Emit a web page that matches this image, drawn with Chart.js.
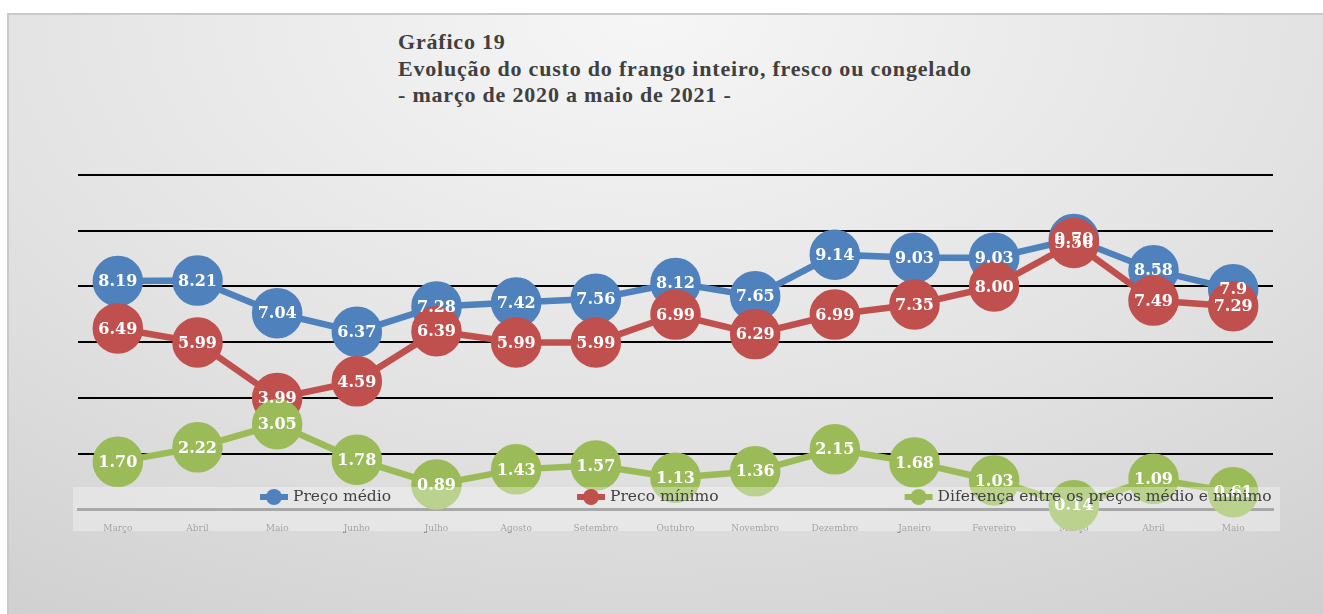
<!DOCTYPE html>
<html>
<head>
<meta charset="utf-8">
<script src="https://cdn.jsdelivr.net/npm/chart.js@4.4.0/dist/chart.umd.min.js"></script>
<style>
  html, body { margin: 0; padding: 0; background: #fff; }
  body { width: 1323px; height: 614px; position: relative; overflow: hidden; }
  #frame {
    position: absolute; left: 7px; top: 13px; width: 1330px; height: 620px;
    border: 2px solid #c9c9c9;
    background: radial-gradient(ellipse 115% 150% at 48% 0%, #f6f6f6 0%, #e2e2e2 45%, #c3c3c3 100%);
  }
  #title {
    position: absolute; left: 398px; top: 29px;
    font-family: 'Liberation Serif', serif; font-weight: bold; font-size: 22px;
    letter-spacing: 0.8px; line-height: 26.5px; color: #404040;
  }
  #wrap { position: absolute; left: 0; top: 0; width: 1323px; height: 614px; }
</style>
</head>
<body>
<div id="frame"></div>
<div id="title">Gráfico 19<br>Evolução do custo do frango inteiro, fresco ou congelado<br>- março de 2020 a maio de 2021 -</div>
<div id="wrap"><canvas id="myChart" width="1323" height="614"></canvas></div>
<script>
const months = ['Março', 'Abril', 'Maio', 'Junho', 'Julho', 'Agosto', 'Setembro', 'Outubro',
  'Novembro', 'Dezembro', 'Janeiro', 'Fevereiro', 'Março', 'Abril', 'Maio'];
const precoMedio = [8.19, 8.21, 7.04, 6.37, 7.28, 7.42, 7.56, 8.12, 7.65, 9.14, 9.03, 9.03, 9.70, 8.58, 7.9];
const medioDecimals = [2, 2, 2, 2, 2, 2, 2, 2, 2, 2, 2, 2, 2, 2, 1];
const precoMinimo = [6.49, 5.99, 3.99, 4.59, 6.39, 5.99, 5.99, 6.99, 6.29, 6.99, 7.35, 8.00, 9.56, 7.49, 7.29];
const diferenca = [1.70, 2.22, 3.05, 1.78, 0.89, 1.43, 1.57, 1.13, 1.36, 2.15, 1.68, 1.03, 0.14, 1.09, 0.61];
const yTicks = [0, 2, 4, 6, 8, 10, 12];

const blue = '#4f81bd', red = '#c0504d', green = '#9bbb59';

function serie(label, data, color, order, decimals) {
  return {
    label: label, data: data, order: order, decimals: decimals,
    borderColor: color, backgroundColor: color,
    pointBackgroundColor: color, pointBorderColor: color,
    borderWidth: 6.5, pointRadius: 22, pointHoverRadius: 22,
    tension: 0, clip: false
  };
}

// rótulos brancos no centro dos pontos
const valueLabels = {
  id: 'valueLabels',
  afterDatasetsDraw(chart) {
    const ctx = chart.ctx;
    ctx.save();
    ctx.font = 'bold 16px "DejaVu Serif"';
    ctx.fillStyle = '#fff';
    ctx.textAlign = 'center';
    ctx.textBaseline = 'middle';
    chart.data.datasets.forEach((ds, i) => {
      chart.getDatasetMeta(i).data.forEach((pt, j) => {
        const d = ds.decimals ? ds.decimals[j] : 2;
        ctx.fillText(ds.data[j].toFixed(d), pt.x, pt.y + 1);
      });
    });
    ctx.restore();
  }
};

// legenda estilo Excel, sobre uma faixa clara
const bandLegend = {
  id: 'bandLegend',
  afterDraw(chart) {
    const ctx = chart.ctx;
    ctx.save();
    ctx.fillStyle = 'rgba(255,255,255,0.32)';
    ctx.fillRect(73, 487, 1207, 44);
    ctx.font = '15.5px "DejaVu Serif"';
    ctx.textBaseline = 'middle';
    let x = 260;
    const y = 497;
    chart.data.datasets.forEach(ds => {
      ctx.strokeStyle = ds.borderColor;
      ctx.lineWidth = 6;
      ctx.beginPath();
      ctx.moveTo(x, y);
      ctx.lineTo(x + 28, y);
      ctx.stroke();
      ctx.fillStyle = ds.borderColor;
      ctx.beginPath();
      ctx.arc(x + 14, y, 8, 0, Math.PI * 2);
      ctx.fill();
      ctx.fillStyle = '#404040';
      ctx.fillText(ds.label, x + 33, y);
      x += 33 + ctx.measureText(ds.label).width + 186;
    });
    ctx.restore();
  }
};

const ctx = document.getElementById('myChart');

new Chart(ctx, {
  type: 'line',
  data: {
    labels: months,
    datasets: [
      serie('Preço médio', precoMedio, blue, 2, medioDecimals),
      serie('Preco mínimo', precoMinimo, red, 1),
      serie('Diferença entre os preços médio e mínimo', diferenca, green, 0)
    ]
  },
  options: {
    responsive: false,
    animation: false,
    layout: {
      autoPadding: false,
      padding: { left: 78, right: 50, top: 175, bottom: 66 }
    },
    scales: {
      x: {
        offset: true,
        grid: { display: false, drawTicks: false },
        border: { display: true, color: '#7f7f7f', width: 3 },
        ticks: { color: '#767676', padding: 14, font: { family: 'DejaVu Serif', size: 9 } }
      },
      y: {
        min: 0, max: 12,
        afterBuildTicks: axis => { axis.ticks = yTicks.map(v => ({ value: v })); },
        grid: {
          drawTicks: false,
          lineWidth: 2,
          color: c => c.tick.value === 0 ? 'rgba(0,0,0,0)' : '#000'
        },
        border: { display: false },
        ticks: { display: false }
      }
    },
    plugins: {
      legend: { display: false },
      tooltip: { enabled: false }
    }
  },
  plugins: [valueLabels, bandLegend]
});
</script>
</body>
</html>
